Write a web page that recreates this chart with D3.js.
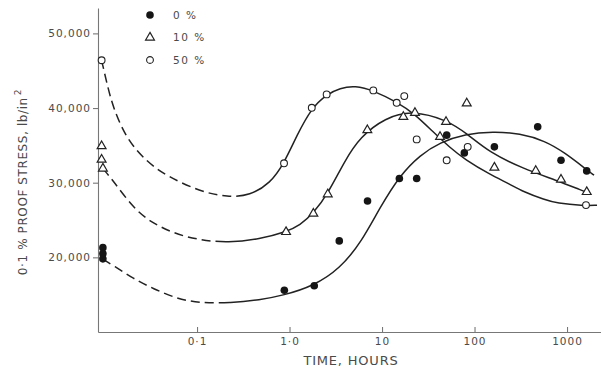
<!DOCTYPE html>
<html>
<head>
<meta charset="utf-8">
<script src="https://cdn.jsdelivr.net/npm/d3@7"></script>
<style>
  html, body { margin: 0; padding: 0; background: #fff; }
  svg { display: block; }
  text { font-family: "DejaVu Sans", sans-serif; fill: #4a4a4a; }
</style>
</head>
<body>
<svg id="chart" width="601" height="369"></svg>
<script>
// tick values / labels
const xTicks = [0.1, 1, 10, 100, 1000];
const xTickLabels = ["0·1", "1·0", "10", "100", "1000"];
const yTicks = [20000, 30000, 40000, 50000];

const seriesNames = ["0 %", "10 %", "50 %"];

// measured points [hours, lb/in2]
const points0 = [
  [0.0096, 21300], [0.0096, 20500], [0.0096, 19800], [0.879, 15600],
  [1.85, 16200], [3.45, 22200], [6.97, 27550], [15.4, 30560], [23.7, 30560],
  [50, 36370], [77.6, 33990], [164, 34800], [482, 37480], [861, 33010],
  [1633, 31580]
];
const points10 = [
  [0.0093, 34900], [0.0093, 33100], [0.0096, 31900], [0.917, 23400],
  [1.81, 25860], [2.59, 28450], [6.94, 37040], [17.0, 38820], [22.7, 39360],
  [42.4, 36140], [49.2, 38150], [82.4, 40620], [164, 32030], [459, 31580],
  [861, 30420], [1633, 28760]
];
const points50 = [
  [0.0093, 46400], [0.872, 32600], [1.74, 40030], [2.52, 41830],
  [8.05, 42360], [14.4, 40700], [17.4, 41600], [23.7, 35800], [50, 33000],
  [84.4, 34800], [1604, 27000]
];

// fitted curves
const curve0 = [
  [0.0096, 19730], [0.0125, 18900], [0.0205, 17140], [0.0337, 15800],
  [0.0604, 14460], [0.108, 13870], [0.226, 13900], [0.48, 14300],
  [0.85, 14900], [1.81, 16150], [3.515, 18500], [6.03, 22100],
  [9.51, 26700], [15.66, 31000], [25.75, 33700],
  [42.3, 35400], [78.9, 36500], [158.5, 36850], [310, 36600],
  [578, 35600], [951, 34000], [1644, 31700], [1959, 31000]
];
const curve10 = [
  [0.0096, 31900], [0.0125, 30200], [0.0205, 26600], [0.031, 24800],
  [0.0554, 23200], [0.108, 22300], [0.216, 21950], [0.48, 22450],
  [0.917, 23400], [1.3, 24300], [1.81, 25900], [2.59, 28500],
  [3.98, 33000], [5.78, 36100], [10.77, 38700],
  [21.6, 39700], [50.1, 38400], [82.4, 36600], [147, 34000],
  [334, 31900], [774, 30300], [1489, 28900], [1644, 28720]
];
const curve50 = [
  [0.0093, 46400], [0.0106, 43300], [0.0124, 40000], [0.0174, 35800],
  [0.0286, 32800], [0.047, 30900], [0.108, 28800], [0.216, 28050],
  [0.374, 28300], [0.616, 29900], [0.872, 32570], [1.205, 36400],
  [1.738, 40030], [2.52, 41830], [3.515, 42670], [5.107, 43000],
  [8.05, 42360], [14.5, 40790], [22.7, 39180], [35.6, 36800],
  [54.3, 34700], [78.9, 33100], [147, 31100], [242, 29800],
  [334, 28800], [578, 27700], [774, 27250], [1489, 26900], [2110, 26980]
];
// curves are dashed (extrapolated) up to this time
const dashedUntil = [0.23, 0.22, 0.37];

const svg = d3.select("#chart");

const x = d3.scaleLog().domain([0.0085, 2330]).range([98, 601]);
const y = d3.scaleLinear().domain([10000, 53400]).range([332, 8]);

const LINE = "#222";

// axes
const xAxis = svg.append("g")
  .attr("transform", `translate(0,${y(10000)})`)
  .call(d3.axisBottom(x).tickValues(xTicks)
    .tickFormat((d, i) => xTickLabels[i])
    .tickSize(-5).tickSizeOuter(0).tickPadding(6));

const yAxis = svg.append("g")
  .attr("transform", `translate(${x.range()[0]},0)`)
  .call(d3.axisLeft(y).tickValues(yTicks)
    .tickFormat(d3.format(","))
    .tickSize(5).tickSizeOuter(0).tickPadding(2));

[xAxis, yAxis].forEach((g) => {
  g.select(".domain").attr("stroke", "#777").attr("stroke-width", 1.1);
  g.selectAll(".tick line").attr("stroke", "#777").attr("stroke-width", 1.1);
  g.selectAll(".tick text")
    .attr("fill", "#4a4a4a")
    .style("font-family", "DejaVu Sans")
    .style("font-size", "10.5px")
    .style("letter-spacing", "1px");
});

// axis titles
svg.append("text")
  .attr("x", 351).attr("y", 365)
  .attr("text-anchor", "middle")
  .style("font-size", "13px")
  .style("letter-spacing", "0.8px")
  .text("TIME, HOURS");

const yTitle = svg.append("text")
  .attr("transform", "translate(27,182) rotate(-90)")
  .attr("text-anchor", "middle")
  .style("font-size", "12px")
  .style("letter-spacing", "0.6px");
yTitle.append("tspan").text("0·1 % PROOF STRESS, lb/in");
yTitle.append("tspan").attr("dy", -6).attr("dx", 2).style("font-size", "9px").text("2");

// curves
const line = d3.line()
  .x((d) => x(d[0]))
  .y((d) => y(d[1]))
  .curve(d3.curveBasis);

[curve0, curve10, curve50].forEach((c, i) => {
  const path = svg.append("path")
    .attr("d", line(c))
    .attr("fill", "none")
    .attr("stroke", LINE)
    .attr("stroke-width", 1.5);

  const node = path.node();
  const total = node.getTotalLength();
  const xEnd = x(dashedUntil[i]);
  let lo = 0, hi = total;
  for (let k = 0; k < 30; k++) {
    const mid = (lo + hi) / 2;
    if (node.getPointAtLength(mid).x < xEnd) lo = mid; else hi = mid;
  }
  const dashLen = lo;
  const dash = [];
  let acc = 0;
  while (acc + 14 <= dashLen) { dash.push(9, 5); acc += 14; }
  dash.push(Math.max(dashLen - acc, 0), 0, total, 0);
  path.attr("stroke-dasharray", dash.join(" "));
});

// markers
const tri = d3.symbol().type(d3.symbolTriangle).size(34);

svg.append("g").selectAll("circle")
  .data(points0).join("circle")
  .attr("cx", (d) => x(d[0])).attr("cy", (d) => y(d[1]))
  .attr("r", 3.8).attr("fill", "#151515");

svg.append("g").selectAll("path")
  .data(points10).join("path")
  .attr("d", tri)
  .attr("transform", (d) => `translate(${x(d[0])},${y(d[1])})`)
  .attr("fill", "#fff").attr("stroke", "#222").attr("stroke-width", 1.2);

svg.append("g").selectAll("circle")
  .data(points50).join("circle")
  .attr("cx", (d) => x(d[0])).attr("cy", (d) => y(d[1]))
  .attr("r", 3.4).attr("fill", "#fff").attr("stroke", "#222").attr("stroke-width", 1.1);

// legend
const legend = svg.append("g").attr("transform", "translate(150,15)");
seriesNames.forEach((name, i) => {
  const row = legend.append("g").attr("transform", `translate(0,${i * 22.5})`);
  if (i === 0) row.append("circle").attr("r", 3.8).attr("fill", "#151515");
  if (i === 1) row.append("path").attr("d", tri).attr("fill", "#fff")
    .attr("stroke", "#222").attr("stroke-width", 1.2);
  if (i === 2) row.append("circle").attr("r", 3.4).attr("fill", "#fff")
    .attr("stroke", "#222").attr("stroke-width", 1.1);
  row.append("text")
    .attr("x", 23).attr("dy", "0.36em")
    .style("font-size", "10.5px")
    .style("letter-spacing", "1.5px")
    .text(name);
});
</script>
</body>
</html>
